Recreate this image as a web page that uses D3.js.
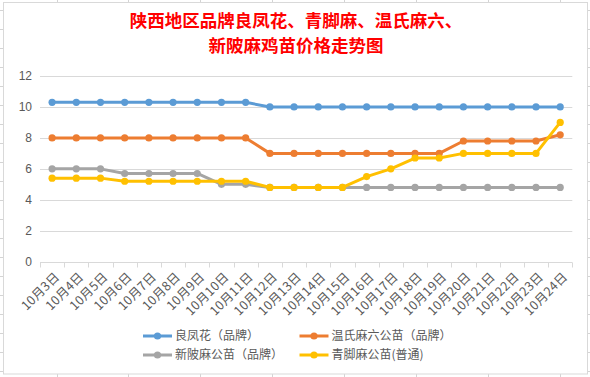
<!DOCTYPE html>
<html lang="zh">
<head>
<meta charset="UTF-8">
<title>陕西地区品牌鸡苗价格走势图</title>
<script src="https://cdnjs.cloudflare.com/ajax/libs/d3/7.8.5/d3.min.js"></script>
<style>
    body { margin: 0; background: #fff; font-family: "Noto Sans CJK SC", "Noto Sans", sans-serif; }
    svg { display: block; }
    .axis text { fill: #595959; }
</style>
</head>
<body>
<div id="chart"></div>
<script>
// data
const dates = ["10月3日","10月4日","10月5日","10月6日","10月7日","10月8日","10月9日","10月10日","10月11日","10月12日","10月13日",
               "10月14日","10月15日","10月16日","10月17日","10月18日","10月19日","10月20日","10月21日","10月22日","10月23日","10月24日"];
const liangfenghua = [10.3,10.3,10.3,10.3,10.3,10.3,10.3,10.3,10.3,10,10,10,10,10,10,10,10,10,10,10,10,10];
const wenshi = [8,8,8,8,8,8,8,8,8,7,7,7,7,7,7,7,7,7.8,7.8,7.8,7.8,8.2];
const xinbei = [6,6,6,5.7,5.7,5.7,5.7,5,5,4.8,4.8,4.8,4.8,4.8,4.8,4.8,4.8,4.8,4.8,4.8,4.8,4.8];
const qingjiao = [5.4,5.4,5.4,5.2,5.2,5.2,5.2,5.2,5.2,4.8,4.8,4.8,4.8,5.5,6,6.7,6.7,7,7,7,7,9];
const seriesNames = ["良凤花（品牌）", "温氏麻六公苗（品牌）", "新陂麻公苗（品牌）", "青脚麻公苗(普通)"];
const seriesColors = ["#5b9bd5", "#ed7d31", "#a5a5a5", "#ffc000"];
const yTicks = [0, 2, 4, 6, 8, 10, 12];

const series = [liangfenghua, wenshi, xinbei, qingjiao].map((vals, i) => ({
    name: seriesNames[i], color: seriesColors[i], values: vals
}));

const W = 590, H = 377;
const svg = d3.select("#chart").append("svg").attr("width", W).attr("height", H);

// spreadsheet grid behind the chart object
const sheet = svg.append("g").attr("stroke", "#d4d4d4").attr("stroke-width", 1);
for (let y = 10.5; y < H; y += 19) sheet.append("line").attr("x1", 0).attr("x2", W).attr("y1", y).attr("y2", y);
for (let x = 56.5; x < W; x += 71.9) sheet.append("line").attr("x1", Math.round(x) + 0.5).attr("x2", Math.round(x) + 0.5).attr("y1", 0).attr("y2", H);

// chart area
svg.append("rect")
    .attr("x", 3.5).attr("y", 2.5).attr("width", 584).attr("height", 371.5)
    .attr("fill", "#fff").attr("stroke", "#d9d9d9");

// title
const title = svg.append("text")
    .attr("text-anchor", "middle")
    .attr("fill", "#ff0000")
    .style("font-size", "17.5px")
    .style("font-weight", "bold");
title.append("tspan").attr("x", 296).attr("y", 27).text("陕西地区品牌良凤花、青脚麻、温氏麻六、");
title.append("tspan").attr("x", 296).attr("y", 52).text("新陂麻鸡苗价格走势图");

const x = d3.scaleBand().domain(dates).range([40, 572.3]).padding(0);
const y = d3.scaleLinear().domain([0, 12]).range([261.7, 76]);

// horizontal gridlines
svg.append("g")
    .selectAll("line")
    .data(yTicks.filter(d => d > 0))
    .join("line")
    .attr("x1", 40).attr("x2", 572.3)
    .attr("y1", d => Math.round(y(d)) + 0.5).attr("y2", d => Math.round(y(d)) + 0.5)
    .attr("stroke", "#d9d9d9");

// y labels
const yAxis = svg.append("g").attr("class", "axis")
    .attr("transform", "translate(32,0)")
    .call(d3.axisLeft(y).tickValues(yTicks).tickSize(0).tickPadding(0));
yAxis.select(".domain").remove();
yAxis.selectAll("text")
    .style("font-family", "'Liberation Sans', sans-serif")
    .style("font-size", "12px");

// x axis line and boundary ticks
const xg = svg.append("g").attr("class", "axis");
const y0 = Math.round(y(0)) + 0.5;
xg.append("line").attr("x1", 40).attr("x2", 572.3).attr("y1", y0).attr("y2", y0).attr("stroke", "#d9d9d9");
xg.selectAll("line.tick")
    .data(dates.map(d => x(d)).concat([x(dates[dates.length - 1]) + x.bandwidth()]))
    .join("line").attr("class", "tick")
    .attr("x1", d => Math.round(d) + 0.5).attr("x2", d => Math.round(d) + 0.5)
    .attr("y1", y0).attr("y2", y0 + 5)
    .attr("stroke", "#d9d9d9");
xg.selectAll("text")
    .data(dates)
    .join("text")
    .attr("transform", d => `translate(${x(d) + x.bandwidth() / 2 + 5},${y0 + 12}) rotate(-45)`)
    .attr("text-anchor", "end")
    .attr("dy", "0.35em")
    .style("font-size", "12.5px")
    .style("letter-spacing", "0.3px")
    .text(d => d);

// lines and markers
const line = d3.line()
    .x((d, i) => x(dates[i]) + x.bandwidth() / 2)
    .y(d => y(d));

series.forEach(s => {
    const g = svg.append("g");
    g.append("path")
        .attr("d", line(s.values))
        .attr("fill", "none")
        .attr("stroke", s.color)
        .attr("stroke-width", 3)
        .attr("stroke-linejoin", "round")
        .attr("stroke-linecap", "round");
    g.selectAll("circle")
        .data(s.values)
        .join("circle")
        .attr("cx", (d, i) => x(dates[i]) + x.bandwidth() / 2)
        .attr("cy", d => y(d))
        .attr("r", 3.6)
        .attr("fill", s.color);
});

// legend
const legendPos = [[143, 336], [299.5, 336], [143, 355], [299.5, 355]];
series.forEach((s, i) => {
    const [lx, ly] = legendPos[i];
    const g = svg.append("g").attr("transform", `translate(${lx},${ly})`);
    g.append("line").attr("x1", 0).attr("x2", 29).attr("stroke", s.color).attr("stroke-width", 3);
    g.append("circle").attr("cx", 14.5).attr("r", 3.6).attr("fill", s.color);
    g.append("text")
        .attr("x", 32).attr("dy", "0.36em")
        .attr("fill", "#595959")
        .style("font-size", "12px")
        .text(s.name);
});
</script>
</body>
</html>
